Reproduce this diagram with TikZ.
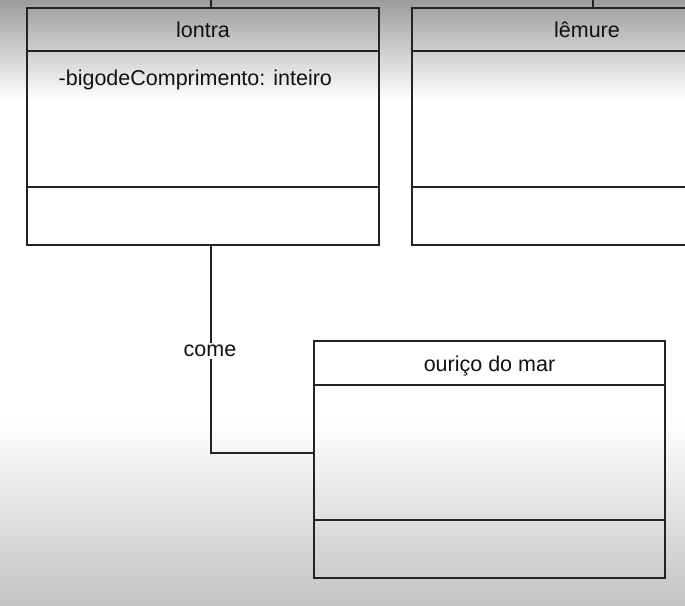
\documentclass[tikz,border=0pt]{standalone}
\usepackage{fontspec}
\setmainfont{Liberation Sans}
\usetikzlibrary{calc}
\definecolor{ln}{HTML}{232323}
\definecolor{txt}{HTML}{111111}
\definecolor{bgtop}{HTML}{9C9C9C}
\definecolor{bgbot}{HTML}{C4C4C4}
\tikzset{
  umlbox/.style={draw=ln, line width=1.6pt, rectangle, inner sep=0pt,
    minimum width=352pt, minimum height=237pt},
  sep/.style={draw=ln, line width=1.6pt},
  conn/.style={draw=ln, line width=1.6pt},
  lbl/.style={text=txt, inner sep=0pt, font=\fontsize{21.5}{25}\selectfont},
  clabel/.style={lbl, fill=white, inner xsep=0pt, inner ysep=2pt}
}
\begin{document}
\begin{tikzpicture}[x=1pt,y=-1pt]
\useasboundingbox (0,0) rectangle (685,605);
\clip (0,0) rectangle (685,605);
% background
\shade[top color=bgtop, bottom color=white] (0,0) rectangle (685,100);
\fill[white] (0,99.5) rectangle (685,420.5);
\shade[top color=white, bottom color=bgbot] (0,420) rectangle (685,605);

% class boxes
\node[umlbox] (lontra) at (203,126.5) {};
\node[umlbox] (lemure) at (588,126.5) {};
\node[umlbox, minimum width=351pt] (ourico) at (489.5,459.5) {};

% compartments
\foreach \b in {lontra,lemure}{
  \draw[sep] ([yshift=-44pt]\b.north west) -- ([yshift=-44pt]\b.north east);
  \draw[sep] ([yshift=59pt]\b.south west) -- ([yshift=59pt]\b.south east);
}
\draw[sep] ([yshift=-45pt]ourico.north west) -- ([yshift=-45pt]ourico.north east);
\draw[sep] ([yshift=59pt]ourico.south west) -- ([yshift=59pt]ourico.south east);

% texts
\node[lbl, anchor=base] (lontraT) at (203,37) {lontra};
\node[lbl, anchor=base] (lemureT) at (587,37) {lêmure};
\node[lbl, anchor=base] (ouricoT) at (489.5,371) {ouriço do mar};
\node[lbl, anchor=base west] (attr) at (58.5,85) {-bigodeComprimento: inteiro};

% connectors leaving the view at the top
\coordinate (topA) at (211,-5);
\coordinate (topB) at (593,-5);
\draw[conn] ([xshift=8pt]lontra.north) -- (topA);
\draw[conn] ([xshift=5pt]lemure.north) -- (topB);

% association "come"
\coordinate (bend) at (211,453);
\draw[conn] ([xshift=8pt]lontra.south) -- (bend) -- (bend -| ourico.west);
\node[clabel, anchor=base] (come) at (210,356.5) {come};
\end{tikzpicture}
\end{document}
